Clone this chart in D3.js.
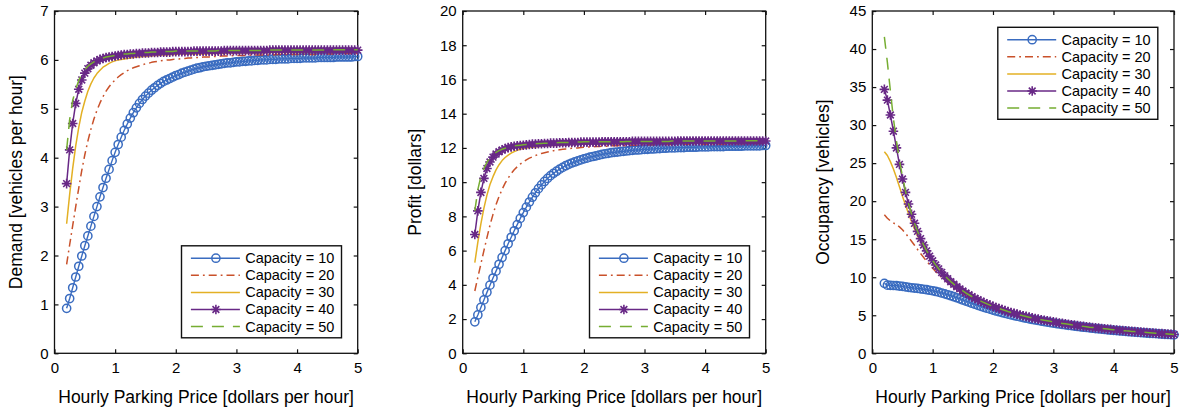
<!DOCTYPE html>
<html><head><meta charset="utf-8">
<script src="https://cdn.jsdelivr.net/npm/d3@7"></script>
<style>body{margin:0;background:#fff}svg{display:block}</style>
</head><body>
<svg id="c" width="1189" height="413"></svg>
<script>
const price = [0.2,0.25,0.3,0.35,0.4,0.45,0.5,0.55,0.6,0.65,0.7,0.75,0.8,0.85,0.9,0.95,1,
1.05,1.1,1.15,1.2,1.25,1.3,1.35,1.4,1.45,1.5,1.55,1.6,1.65,1.7,1.75,1.8,1.85,1.9,1.95,2,
2.05,2.1,2.15,2.2,2.25,2.3,2.35,2.4,2.45,2.5,2.55,2.6,2.65,2.7,2.75,2.8,2.85,2.9,2.95,3,
3.05,3.1,3.15,3.2,3.25,3.3,3.35,3.4,3.45,3.5,3.55,3.6,3.65,3.7,3.75,3.8,3.85,3.9,3.95,4,
4.05,4.1,4.15,4.2,4.25,4.3,4.35,4.4,4.45,4.5,4.55,4.6,4.65,4.7,4.75,4.8,4.85,4.9,4.95,5];

const capacityLabels = ["Capacity = 10","Capacity = 20","Capacity = 30","Capacity = 40","Capacity = 50"];
const xTicks = [0,1,2,3,4,5];
const demandTicks = [0,1,2,3,4,5,6,7];
const profitTicks = [0,2,4,6,8,10,12,14,16,18,20];
const occupancyTicks = [0,5,10,15,20,25,30,35,40,45];

const demand10 = [0.92,1.12,1.34,1.56,1.78,1.99,2.20,2.40,2.60,2.80,3.00,3.20,3.39,3.58,3.76,3.94,4.11,
4.27,4.42,4.56,4.69,4.81,4.92,5.02,5.11,5.19,5.26,5.32,5.38,5.43,5.48,5.52,5.56,5.59,5.62,5.65,5.68,
5.70,5.73,5.75,5.77,5.79,5.81,5.83,5.84,5.86,5.87,5.88,5.89,5.90,5.91,5.92,5.93,5.94,5.94,5.95,5.96,
5.96,5.97,5.97,5.98,5.98,5.99,5.99,6.00,6.00,6.00,6.01,6.01,6.01,6.02,6.02,6.02,6.02,6.03,6.03,6.03,
6.03,6.04,6.04,6.04,6.04,6.04,6.05,6.05,6.05,6.05,6.05,6.05,6.06,6.06,6.06,6.06,6.06,6.06,6.07,6.07];
const demand20 = [1.82,2.22,2.61,3.00,3.38,3.74,4.06,4.34,4.58,4.79,4.97,5.12,5.25,5.36,5.45,5.53,5.59,
5.65,5.70,5.74,5.78,5.81,5.84,5.86,5.88,5.90,5.92,5.93,5.95,5.96,5.97,5.98,5.99,6.00,6.00,6.01,6.02,
6.02,6.03,6.03,6.04,6.04,6.05,6.05,6.05,6.06,6.06,6.06,6.07,6.07,6.07,6.08,6.08,6.08,6.08,6.09,6.09,
6.09,6.09,6.09,6.09,6.10,6.10,6.10,6.10,6.10,6.10,6.10,6.10,6.11,6.11,6.11,6.11,6.11,6.11,6.11,6.11,
6.11,6.11,6.11,6.11,6.11,6.11,6.12,6.12,6.12,6.12,6.12,6.12,6.12,6.12,6.13,6.13,6.13,6.13,6.13,6.13];
const demand30 = [2.65,3.25,3.78,4.24,4.62,4.93,5.16,5.36,5.51,5.63,5.72,5.79,5.85,5.89,5.93,5.96,5.98,
6.00,6.01,6.02,6.03,6.04,6.05,6.06,6.06,6.07,6.07,6.08,6.08,6.09,6.09,6.10,6.10,6.10,6.11,6.11,6.11,
6.12,6.12,6.12,6.12,6.12,6.12,6.12,6.12,6.12,6.12,6.13,6.13,6.13,6.13,6.13,6.13,6.14,6.14,6.14,6.14,
6.14,6.14,6.14,6.14,6.14,6.14,6.14,6.14,6.15,6.15,6.15,6.15,6.15,6.15,6.15,6.15,6.15,6.15,6.15,6.15,
6.15,6.15,6.15,6.15,6.15,6.15,6.16,6.16,6.16,6.16,6.16,6.16,6.16,6.16,6.17,6.17,6.17,6.17,6.17,6.17];
const demand40 = [3.47,4.16,4.70,5.11,5.40,5.59,5.73,5.82,5.89,5.94,5.98,6.01,6.03,6.05,6.06,6.07,6.08,
6.09,6.10,6.11,6.11,6.12,6.12,6.13,6.13,6.14,6.14,6.14,6.15,6.15,6.15,6.16,6.16,6.16,6.16,6.17,6.17,
6.17,6.17,6.17,6.17,6.17,6.18,6.18,6.18,6.18,6.18,6.18,6.18,6.18,6.18,6.18,6.19,6.19,6.19,6.19,6.19,
6.19,6.19,6.19,6.19,6.19,6.19,6.19,6.19,6.19,6.19,6.20,6.20,6.20,6.20,6.20,6.20,6.20,6.20,6.20,6.20,
6.20,6.20,6.20,6.20,6.20,6.20,6.20,6.20,6.20,6.20,6.20,6.20,6.20,6.20,6.20,6.20,6.20,6.20,6.20,6.20];
const demand50 = [4.16,4.78,5.17,5.40,5.58,5.71,5.80,5.87,5.92,5.96,5.99,6.02,6.04,6.06,6.07,6.08,6.09,
6.10,6.11,6.12,6.12,6.13,6.13,6.14,6.14,6.15,6.15,6.15,6.16,6.16,6.16,6.16,6.17,6.17,6.17,6.17,6.18,
6.18,6.18,6.18,6.18,6.18,6.18,6.18,6.18,6.18,6.18,6.18,6.18,6.18,6.19,6.19,6.19,6.19,6.19,6.19,6.19,
6.19,6.19,6.19,6.19,6.19,6.19,6.19,6.19,6.20,6.20,6.20,6.20,6.20,6.20,6.20,6.20,6.20,6.20,6.20,6.20,
6.20,6.20,6.20,6.20,6.20,6.20,6.20,6.20,6.20,6.20,6.21,6.21,6.21,6.21,6.21,6.21,6.21,6.21,6.21,6.21];

const profit10 = [1.84,2.24,2.68,3.12,3.56,3.98,4.40,4.80,5.20,5.60,6.00,6.40,6.78,7.16,7.52,7.88,8.22,
8.54,8.84,9.12,9.38,9.62,9.84,10.04,10.22,10.38,10.52,10.64,10.76,10.86,10.96,11.04,11.12,11.18,11.24,11.30,11.36,
11.40,11.46,11.50,11.54,11.58,11.62,11.66,11.68,11.72,11.74,11.76,11.78,11.80,11.82,11.84,11.86,11.88,11.88,11.90,11.92,
11.92,11.94,11.94,11.96,11.96,11.98,11.98,12.00,12.00,12.00,12.02,12.02,12.02,12.04,12.04,12.04,12.04,12.06,12.06,12.06,
12.06,12.08,12.08,12.08,12.08,12.08,12.10,12.10,12.10,12.10,12.10,12.10,12.12,12.12,12.12,12.12,12.12,12.12,12.14,12.14];
const profit20 = [3.64,4.44,5.22,6.00,6.76,7.48,8.12,8.68,9.16,9.58,9.94,10.24,10.50,10.72,10.90,11.06,11.18,
11.30,11.40,11.48,11.56,11.62,11.68,11.72,11.76,11.80,11.84,11.86,11.90,11.92,11.94,11.96,11.98,12.00,12.00,12.02,12.04,
12.04,12.06,12.06,12.08,12.08,12.10,12.10,12.10,12.12,12.12,12.12,12.14,12.14,12.14,12.16,12.16,12.16,12.16,12.18,12.18,
12.18,12.18,12.18,12.18,12.20,12.20,12.20,12.20,12.20,12.20,12.20,12.20,12.22,12.22,12.22,12.22,12.22,12.22,12.22,12.22,
12.22,12.22,12.22,12.22,12.22,12.22,12.24,12.24,12.24,12.24,12.24,12.24,12.24,12.24,12.26,12.26,12.26,12.26,12.26,12.26];
const profit30 = [5.30,6.50,7.56,8.48,9.24,9.86,10.32,10.72,11.02,11.26,11.44,11.58,11.70,11.78,11.86,11.92,11.96,
12.00,12.02,12.04,12.06,12.08,12.10,12.12,12.12,12.14,12.14,12.16,12.16,12.18,12.18,12.20,12.20,12.20,12.22,12.22,12.22,
12.24,12.24,12.24,12.24,12.24,12.24,12.24,12.24,12.24,12.24,12.26,12.26,12.26,12.26,12.26,12.26,12.28,12.28,12.28,12.28,
12.28,12.28,12.28,12.28,12.28,12.28,12.28,12.28,12.30,12.30,12.30,12.30,12.30,12.30,12.30,12.30,12.30,12.30,12.30,12.30,
12.30,12.30,12.30,12.30,12.30,12.30,12.32,12.32,12.32,12.32,12.32,12.32,12.32,12.32,12.34,12.34,12.34,12.34,12.34,12.34];
const profit40 = [6.94,8.32,9.40,10.22,10.80,11.18,11.46,11.64,11.78,11.88,11.96,12.02,12.06,12.10,12.12,12.14,12.16,
12.18,12.20,12.22,12.22,12.24,12.24,12.26,12.26,12.28,12.28,12.28,12.30,12.30,12.30,12.32,12.32,12.32,12.32,12.34,12.34,
12.34,12.34,12.34,12.34,12.34,12.36,12.36,12.36,12.36,12.36,12.36,12.36,12.36,12.36,12.36,12.38,12.38,12.38,12.38,12.38,
12.38,12.38,12.38,12.38,12.38,12.38,12.38,12.38,12.38,12.38,12.40,12.40,12.40,12.40,12.40,12.40,12.40,12.40,12.40,12.40,
12.40,12.40,12.40,12.40,12.40,12.40,12.40,12.40,12.40,12.40,12.40,12.40,12.40,12.40,12.40,12.40,12.40,12.40,12.40,12.40];
const profit50 = [8.32,9.56,10.34,10.80,11.16,11.42,11.60,11.74,11.84,11.92,11.98,12.04,12.08,12.12,12.14,12.16,12.18,
12.20,12.22,12.24,12.24,12.26,12.26,12.28,12.28,12.30,12.30,12.30,12.32,12.32,12.32,12.32,12.34,12.34,12.34,12.34,12.36,
12.36,12.36,12.36,12.36,12.36,12.36,12.36,12.36,12.36,12.36,12.36,12.36,12.36,12.38,12.38,12.38,12.38,12.38,12.38,12.38,
12.38,12.38,12.38,12.38,12.38,12.38,12.38,12.38,12.40,12.40,12.40,12.40,12.40,12.40,12.40,12.40,12.40,12.40,12.40,12.40,
12.40,12.40,12.40,12.40,12.40,12.40,12.40,12.40,12.40,12.40,12.42,12.42,12.42,12.42,12.42,12.42,12.42,12.42,12.42,12.42];

const occupancy10 = [9.20,8.96,8.93,8.91,8.90,8.84,8.80,8.73,8.67,8.62,8.57,8.53,8.48,8.42,8.36,8.29,8.22,
8.13,8.04,7.93,7.82,7.70,7.57,7.44,7.30,7.16,7.01,6.86,6.73,6.58,6.45,6.31,6.18,6.04,5.92,5.80,5.68,
5.56,5.46,5.35,5.25,5.15,5.05,4.96,4.87,4.78,4.70,4.61,4.53,4.45,4.38,4.31,4.24,4.17,4.10,4.03,3.97,
3.91,3.85,3.79,3.74,3.68,3.63,3.58,3.53,3.48,3.43,3.39,3.34,3.29,3.25,3.21,3.17,3.13,3.09,3.05,3.02,
2.98,2.95,2.91,2.88,2.84,2.81,2.78,2.75,2.72,2.69,2.66,2.63,2.61,2.58,2.55,2.53,2.50,2.47,2.45,2.43];
const occupancy20 = [18.20,17.76,17.40,17.14,16.90,16.62,16.24,15.78,15.27,14.74,14.20,13.65,13.13,12.61,12.11,11.64,11.18,
10.76,10.36,9.98,9.63,9.30,8.98,8.68,8.40,8.14,7.89,7.65,7.44,7.22,7.02,6.83,6.66,6.49,6.32,6.16,6.02,
5.87,5.74,5.61,5.49,5.37,5.26,5.15,5.04,4.95,4.85,4.75,4.67,4.58,4.50,4.42,4.34,4.27,4.19,4.13,4.06,
3.99,3.93,3.87,3.81,3.75,3.70,3.64,3.59,3.54,3.49,3.44,3.39,3.35,3.30,3.26,3.22,3.17,3.13,3.09,3.06,
3.02,2.98,2.94,2.91,2.88,2.84,2.81,2.78,2.75,2.72,2.69,2.66,2.63,2.60,2.58,2.55,2.53,2.50,2.48,2.45];
const occupancy30 = [26.50,26.00,25.20,24.23,23.10,21.91,20.64,19.49,18.37,17.32,16.34,15.44,14.63,13.86,13.18,12.55,11.96,
11.43,10.93,10.47,10.05,9.66,9.31,8.98,8.66,8.37,8.09,7.84,7.60,7.38,7.16,6.97,6.78,6.59,6.43,6.27,6.11,
5.97,5.83,5.69,5.56,5.44,5.32,5.21,5.10,5.00,4.90,4.81,4.72,4.63,4.54,4.46,4.38,4.31,4.23,4.16,4.09,
4.03,3.96,3.90,3.84,3.78,3.72,3.67,3.61,3.57,3.51,3.46,3.42,3.37,3.32,3.28,3.24,3.19,3.15,3.11,3.08,
3.04,3.00,2.96,2.93,2.89,2.86,2.83,2.80,2.77,2.74,2.71,2.68,2.65,2.62,2.60,2.57,2.54,2.52,2.49,2.47];
const occupancy40 = [34.70,33.28,31.33,29.20,27.00,24.84,22.92,21.16,19.63,18.28,17.09,16.03,15.08,14.24,13.47,12.78,12.16,
11.60,11.09,10.63,10.18,9.79,9.41,9.08,8.76,8.47,8.19,7.92,7.69,7.45,7.23,7.04,6.84,6.66,6.49,6.33,6.17,
6.02,5.88,5.74,5.61,5.48,5.37,5.26,5.15,5.04,4.94,4.85,4.75,4.66,4.58,4.49,4.42,4.34,4.27,4.20,4.13,
4.06,3.99,3.93,3.87,3.81,3.75,3.70,3.64,3.59,3.54,3.49,3.44,3.40,3.35,3.31,3.26,3.22,3.18,3.14,3.10,
3.06,3.02,2.99,2.95,2.92,2.88,2.85,2.82,2.79,2.76,2.73,2.70,2.67,2.64,2.61,2.58,2.56,2.53,2.50,2.48];
const occupancy50 = [41.60,38.24,34.47,30.86,27.90,25.38,23.20,21.34,19.73,18.34,17.11,16.05,15.10,14.26,13.49,12.80,12.18,
11.62,11.11,10.64,10.20,9.81,9.43,9.09,8.77,8.48,8.20,7.93,7.70,7.47,7.24,7.04,6.86,6.67,6.50,6.33,6.18,
6.03,5.89,5.75,5.62,5.49,5.37,5.26,5.15,5.04,4.94,4.85,4.75,4.66,4.58,4.50,4.42,4.34,4.27,4.20,4.13,
4.06,3.99,3.93,3.87,3.81,3.75,3.70,3.64,3.59,3.54,3.49,3.44,3.40,3.35,3.31,3.26,3.22,3.18,3.14,3.10,
3.06,3.02,2.99,2.95,2.92,2.88,2.85,2.82,2.79,2.76,2.73,2.70,2.67,2.64,2.62,2.59,2.56,2.54,2.51,2.48];

// ---- styles (kept apart from data) ----
const seriesStyle = [
  {color:"#3a6cc0", dash:null, marker:"circle", width:1.4},
  {color:"#c9512a", dash:"8,4,1.8,4", marker:null, width:1.5},
  {color:"#e3b024", dash:null, marker:null, width:1.5},
  {color:"#682886", dash:null, marker:"star", width:1.5},
  {color:"#76ad32", dash:"12,9", marker:null, width:1.5}
];
const FONT = "'Liberation Sans', Arial, Helvetica, sans-serif";
const TOP = 11, BOTTOM = 353.3;

const panels = [
  {left:54.5, width:303.2, yMax:7, yTicks:demandTicks, series:[demand10,demand20,demand30,demand40,demand50],
   title:"Demand [vehicles per hour]", titleOffset:32.8, legend:"bottom"},
  {left:462.7, width:303.0, yMax:20, yTicks:profitTicks, series:[profit10,profit20,profit30,profit40,profit50],
   title:"Profit [dollars]", titleOffset:42, legend:"bottom"},
  {left:872.3, width:301.7, yMax:45, yTicks:occupancyTicks, series:[occupancy10,occupancy20,occupancy30,occupancy40,occupancy50],
   title:"Occupancy [vehicles]", titleOffset:43, legend:"top"}
];

const svg = d3.select("#c");

function starPath(s){
  const d = s*0.7071;
  return `M${-s},0H${s}M0,${-s}V${s}M${-d},${-d}L${d},${d}M${-d},${d}L${d},${-d}`;
}
function drawMarkers(g, st, pts){
  if (st.marker === "circle"){
    g.selectAll(null).data(pts).join("circle")
      .attr("cx", d=>d[0]).attr("cy", d=>d[1]).attr("r", 4.1)
      .attr("fill","none").attr("stroke", st.color).attr("stroke-width", 1.5);
  } else if (st.marker === "star"){
    g.selectAll(null).data(pts).join("path")
      .attr("d", starPath(4.8)).attr("transform", d=>`translate(${d[0]},${d[1]})`)
      .attr("fill","none").attr("stroke", st.color).attr("stroke-width", 1.6);
  }
}

panels.forEach(p => {
  const right = p.left + p.width;
  const x = d3.scaleLinear().domain([0,5]).range([p.left, right]);
  const y = d3.scaleLinear().domain([0,p.yMax]).range([BOTTOM, TOP]);
  const g = svg.append("g");

  g.append("rect").attr("x",p.left).attr("y",TOP).attr("width",p.width).attr("height",BOTTOM-TOP)
    .attr("fill","none").attr("stroke","#111").attr("stroke-width",1.3);

  const styleAxis = a => {
    a.attr("font-size",15).attr("font-family",FONT);
    a.select(".domain").remove();
    a.selectAll("line").attr("stroke","#111").attr("stroke-width",1.2);
    a.selectAll("text").attr("fill","#000");
  };
  g.append("g").attr("transform",`translate(0,${BOTTOM})`)
    .call(d3.axisBottom(x).tickValues(xTicks).tickSizeInner(-4).tickSizeOuter(0).tickPadding(9.4).tickFormat(d3.format("d")))
    .call(styleAxis);
  g.append("g").attr("transform",`translate(0,${TOP})`)
    .call(d3.axisTop(x).tickValues(xTicks).tickSizeInner(-4).tickSizeOuter(0).tickFormat(""))
    .call(styleAxis);
  g.append("g").attr("transform",`translate(${p.left},0)`)
    .call(d3.axisLeft(y).tickValues(p.yTicks).tickSizeInner(-4).tickSizeOuter(0).tickPadding(6).tickFormat(d3.format("d")))
    .call(styleAxis);
  g.append("g").attr("transform",`translate(${right},0)`)
    .call(d3.axisRight(y).tickValues(p.yTicks).tickSizeInner(-4).tickSizeOuter(0).tickFormat(""))
    .call(styleAxis);

  g.append("text").attr("x",(p.left+right)/2).attr("y",402.7).attr("text-anchor","middle")
    .attr("font-family",FONT).attr("font-size",17.5).attr("fill","#000")
    .text("Hourly Parking Price [dollars per hour]");
  g.append("text").attr("transform",`translate(${p.left - p.titleOffset},${(TOP+BOTTOM)/2}) rotate(-90)`)
    .attr("text-anchor","middle").attr("font-family",FONT).attr("font-size",17.5).attr("fill","#000")
    .text(p.title);

  const line = d3.line().x(d=>d[0]).y(d=>d[1]);
  p.series.forEach((vals, si) => {
    const st = seriesStyle[si];
    const n = Math.min(vals.length, price.length);
    const pts = d3.range(n).map(i => [x(price[i]), y(vals[i])]);
    const sg = g.append("g");
    sg.append("path").attr("d", line(pts)).attr("fill","none")
      .attr("stroke", st.color).attr("stroke-width", st.width)
      .attr("stroke-dasharray", st.dash).attr("stroke-linejoin","round");
    drawMarkers(sg, st, pts);
  });

  const lw = 160, lh = 92;
  const lx = right - 16.2 - lw;
  const ly = p.legend === "bottom" ? BOTTOM - 15.5 - lh : TOP + 16.3;
  const lg = g.append("g");
  lg.append("rect").attr("x",lx).attr("y",ly).attr("width",lw).attr("height",lh)
    .attr("fill","#fff").attr("stroke","#111").attr("stroke-width",1.4);
  capacityLabels.forEach((lab, i) => {
    const st = seriesStyle[i];
    const ry = ly + 12.4 + i*17.1;
    lg.append("line").attr("x1",lx+9.4).attr("x2",lx+58.4).attr("y1",ry).attr("y2",ry)
      .attr("stroke",st.color).attr("stroke-width",st.width).attr("stroke-dasharray",st.dash);
    drawMarkers(lg, st, [[lx+34.4, ry]]);
    lg.append("text").attr("x",lx+63.7).attr("y",ry+4.9)
      .attr("font-family",FONT).attr("font-size",14.5).attr("fill","#000").text(lab);
  });
});

[demand10,demand20,demand30,demand40,demand50,profit10,profit20,profit30,profit40,profit50,
 occupancy10,occupancy20,occupancy30,occupancy40,occupancy50].forEach((a,i)=>{
  if (a.length !== price.length) throw new Error("array "+i+" has length "+a.length);
});
</script>
</body></html>
